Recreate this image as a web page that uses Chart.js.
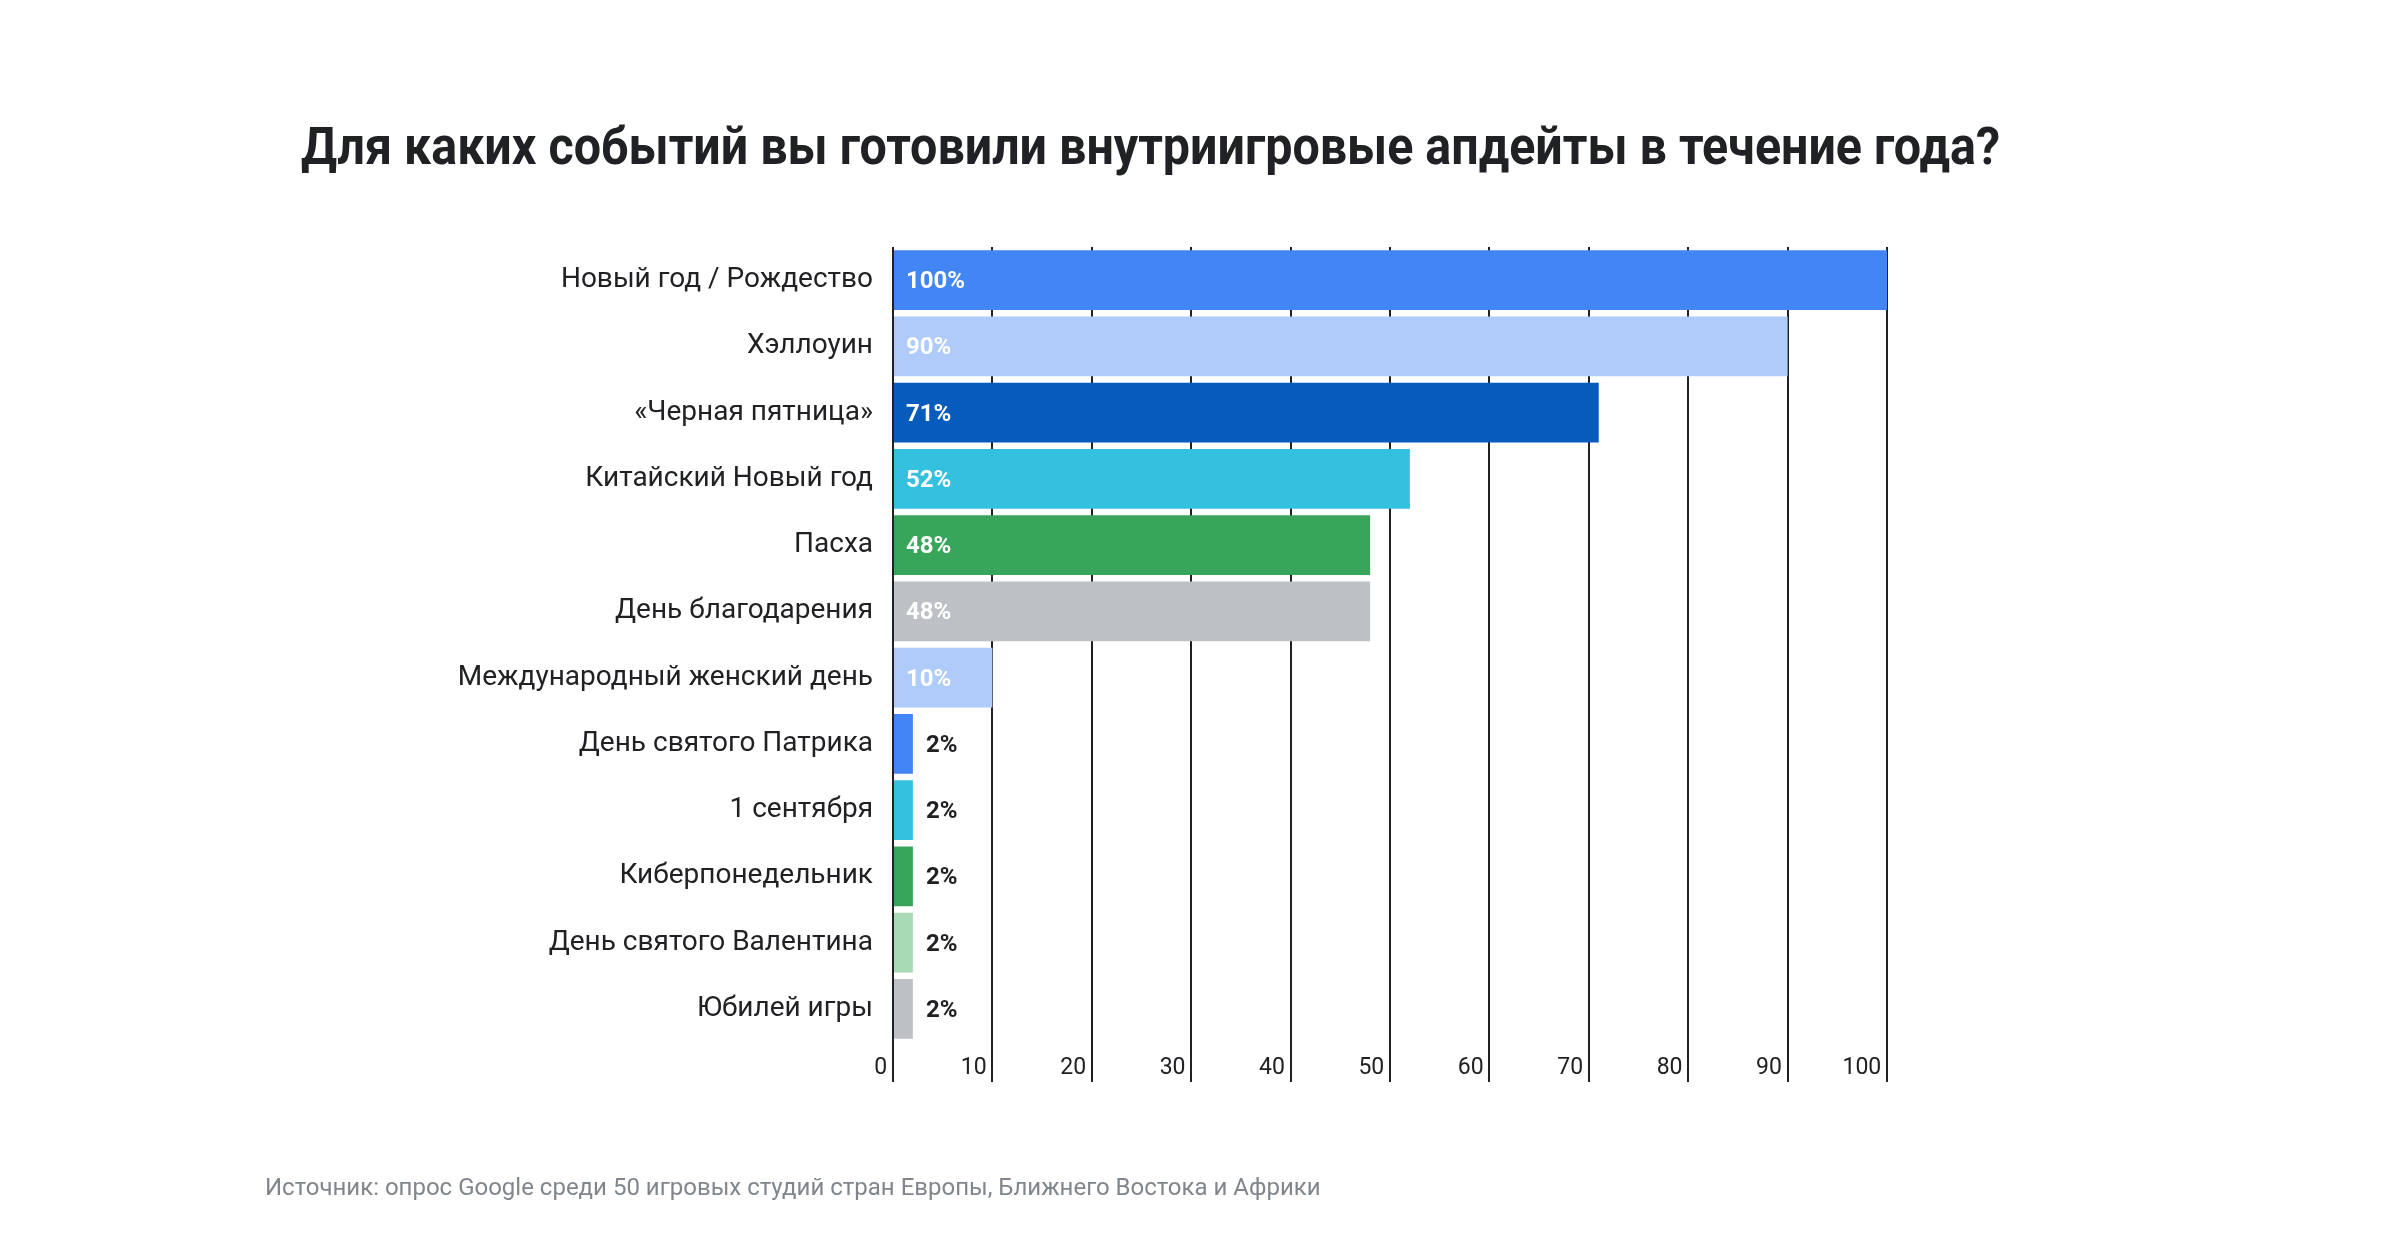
<!DOCTYPE html>
<html>
<head>
<meta charset="utf-8">
<script src="https://cdn.jsdelivr.net/npm/chart.js@4.4.0/dist/chart.umd.min.js"></script>
<style>
  html, body { margin: 0; background: #ffffff; }
  .wrap { width: 2400px; height: 1256px; }
</style>
</head>
<body>
<div class="wrap"><canvas class="chart-1"></canvas></div>
<script>
var categories = ['Новый год / Рождество', 'Хэллоуин', '«Черная пятница»', 'Китайский Новый год',
    'Пасха', 'День благодарения', 'Международный женский день', 'День святого Патрика',
    '1 сентября', 'Киберпонедельник', 'День святого Валентина', 'Юбилей игры'];
var values = [100, 90, 71, 52, 48, 48, 10, 2, 2, 2, 2, 2];
var barColors = ['#4285f4', '#aecbfa', '#065bbd', '#34c1e0', '#37a55a', '#bdc1c6',
    '#aecbfa', '#4285f4', '#34c1e0', '#37a55a', '#a8dab5', '#bdc1c6'];
var titleText = 'Для каких событий вы готовили внутриигровые апдейты в течение года?';
var sourceText = 'Источник: опрос Google среди 50 игровых студий стран Европы, Ближнего Востока и Африки';

// value labels: white inside the long bars, dark after the short ones
const valueLabels = {
    id: 'valueLabels',
    afterDraw(chart) {
        const ctx = chart.ctx;
        const meta = chart.getDatasetMeta(0);
        ctx.save();
        ctx.font = 'bold 24px Roboto';
        ctx.textBaseline = 'middle';
        ctx.textAlign = 'left';
        meta.data.forEach(function (bar, i) {
            const v = values[i];
            if (v >= 10) {
                ctx.fillStyle = '#ffffff';
                ctx.fillText(v + '%', bar.base + 12, bar.y + 2);
            } else {
                ctx.fillStyle = '#202124';
                ctx.fillText(v + '%', bar.x + 13, bar.y + 2);
            }
        });
        ctx.restore();
    }
};

// title and source note are wider than the chart area, so draw them here
const headerFooter = {
    id: 'headerFooter',
    afterDraw(chart) {
        const ctx = chart.ctx;
        ctx.save();
        ctx.textBaseline = 'middle';
        ctx.textAlign = 'left';
        ctx.font = 'bold 51px Roboto';
        ctx.fillStyle = '#202124';
        ctx.fillText(titleText, 301, 151, 1699);
        ctx.font = '24px Roboto';
        ctx.fillStyle = '#80868b';
        ctx.fillText(sourceText, 265, 1189);
        ctx.restore();
    }
};

var ctx1 = document.querySelector('.chart-1');
const chart1 = new Chart(ctx1, {
    type: 'bar',
    data: {
        labels: categories,
        datasets: [
            {
                data: values,
                backgroundColor: barColors,
                barPercentage: 0.9,
                categoryPercentage: 1.0
            }
        ]
    },
    options: {
        indexAxis: 'y',
        responsive: true,
        maintainAspectRatio: false,
        animation: false,
        layout: { padding: { left: 300, right: 513, top: 247, bottom: 154 } },
        plugins: {
            legend: { display: false },
            tooltip: { enabled: false },
            title: { display: false }
        },
        scales: {
            x: {
                z: 1,
                min: 0,
                max: 100,
                border: { display: false },
                grid: {
                    color: '#202124',
                    lineWidth: 2,
                    drawTicks: true,
                    tickLength: 40
                },
                ticks: {
                    stepSize: 10,
                    align: 'end',
                    padding: -28,
                    color: '#202124',
                    font: { family: 'Roboto', size: 23 },
                    callback: function (v) { return v + ' '; }
                },
                afterFit: function (scale) { scale.height = 60; }
            },
            y: {
                border: { display: false },
                grid: { display: false },
                ticks: {
                    padding: 12,
                    color: '#202124',
                    font: { family: 'Roboto', size: 28 }
                },
                afterFit: function (scale) { scale.width = 593; }
            }
        }
    },
    plugins: [valueLabels, headerFooter]
});
</script>
</body>
</html>
